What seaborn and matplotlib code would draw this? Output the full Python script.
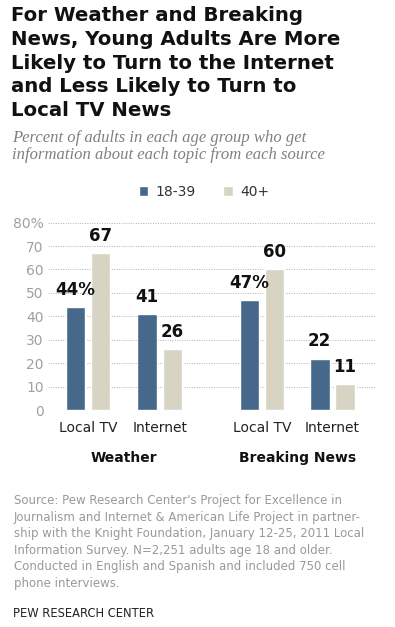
import pandas as pd
import matplotlib
matplotlib.use("Agg")
import matplotlib.pyplot as plt
import seaborn as sns

# data
sources = ["Local TV", "Internet", "Local TV", "Internet"]
topics = ["Weather", "Weather", "Breaking News", "Breaking News"]
xpos = [0, 1, 2.42, 3.4]
young = [44, 41, 47, 22]
older = [67, 26, 60, 11]
ages = ["18-39", "40+"]

df = pd.DataFrame({
    "x": xpos * 2,
    "pct": young + older,
    "age": [ages[0]] * 4 + [ages[1]] * 4,
})

sns.set_style("white")
plt.rcParams["font.family"] = ["DejaVu Sans"]

fig = plt.figure(figsize=(3.95, 6.27), dpi=100)
ax = fig.add_axes([0.1215, 0.346, 0.8275, 0.299])

sns.barplot(data=df, x="x", y="pct", hue="age", native_scale=True,
            palette=["#46688a", "#d8d4c4"], width=0.72, gap=0.23,
            saturation=1, ax=ax)

ax.set_ylim(0, 80)
ax.set_xlim(-0.556, 3.99)
ax.set_yticks(range(0, 81, 10))
ax.set_yticklabels([str(v) for v in range(0, 80, 10)] + ["80%"],
                   color="#a0a0a0", fontsize=10)
ax.yaxis.grid(True, linestyle=(0, (1, 1.5)), color="#b0b0b0", linewidth=0.7)
ax.set_axisbelow(True)
ax.set_xticks(xpos)
ax.set_xticklabels(sources, fontsize=10, color="#222222")
ax.tick_params(axis="both", length=0, pad=3)
ax.tick_params(axis="x", pad=8)
ax.set_xlabel("")
ax.set_ylabel("")
sns.despine(ax=ax, left=True, bottom=True)

# value labels
for i, cont in enumerate(ax.containers):
    vals = young if i == 0 else older
    labels = [f"{v}%" if j in (0, 2) and i == 0 else str(v) for j, v in enumerate(vals)]
    ax.bar_label(cont, labels=labels, padding=6, fontsize=12,
                 fontweight="bold", color="#111111")

# group labels
for name in ["Weather", "Breaking News"]:
    idx = [k for k, t in enumerate(topics) if t == name]
    center = sum(xpos[k] for k in idx) / len(idx)
    ax.text(center, -20.5, name, ha="center", va="center", fontsize=10,
            fontweight="bold", color="#111111", transform=ax.transData,
            clip_on=False)

sns.move_legend(ax, "center", bbox_to_anchor=(0.516, 0.694),
                bbox_transform=fig.transFigure, ncol=2, frameon=False,
                title=None, fontsize=10, handlelength=0.7, handleheight=0.7,
                handletextpad=0.5, columnspacing=2.0, labelcolor="#333333")

title = ("For Weather and Breaking\nNews, Young Adults Are More\n"
         "Likely to Turn to the Internet\nand Less Likely to Turn to\n"
         "Local TV News")
fig.text(0.028, 0.991, title, ha="left", va="top", fontsize=14.2,
         fontweight="bold", color="#111111", linespacing=1.33)

fig.text(0.03, 0.793, "Percent of adults in each age group who get\n"
         "information about each topic from each source",
         ha="left", va="top", fontsize=12, style="italic",
         family="Liberation Serif", color="#808080", linespacing=1.09)

fig.text(0.035, 0.212, "Source: Pew Research Center's Project for Excellence in\n"
         "Journalism and Internet & American Life Project in partner-\n"
         "ship with the Knight Foundation, January 12-25, 2011 Local\n"
         "Information Survey. N=2,251 adults age 18 and older.\n"
         "Conducted in English and Spanish and included 750 cell\n"
         "phone interviews.", ha="left", va="top", fontsize=8.5,
         color="#999999", linespacing=1.36)

fig.text(0.033, 0.022, "PEW RESEARCH CENTER", ha="left", va="center",
         fontsize=8.3, color="#222222")

fig.savefig("out.png", dpi=100)
